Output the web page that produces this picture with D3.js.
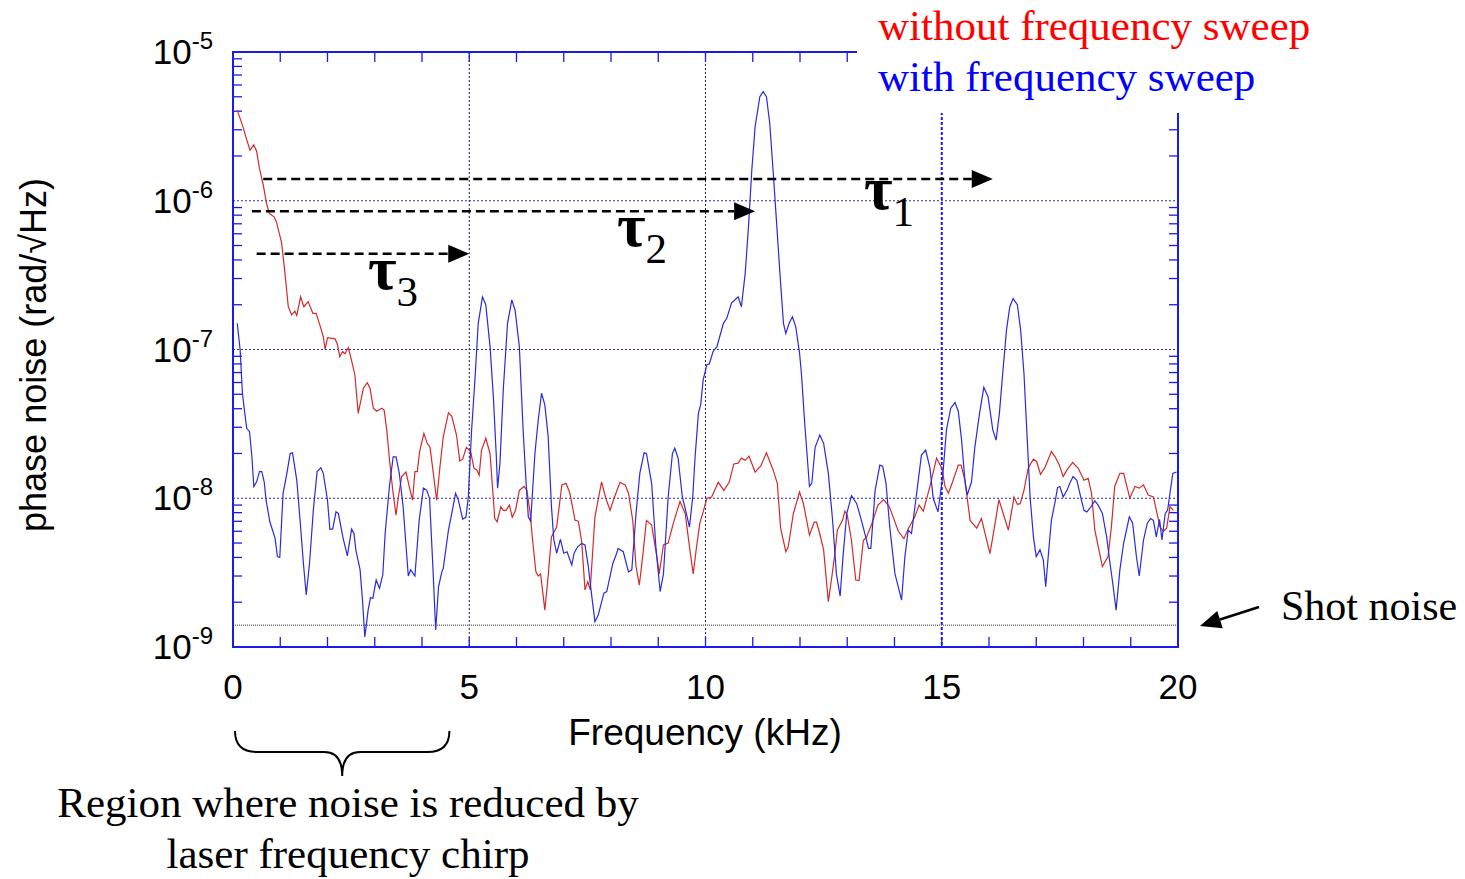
<!doctype html>
<html>
<head>
<meta charset="utf-8">
<style>
  body { margin: 0; background: #fff; }
  .sans { font-family: "Liberation Sans", Arial, Helvetica, sans-serif; }
  .serif { font-family: "Liberation Serif", "Times New Roman", serif; }
</style>
<script src="https://d3js.org/d3.v7.min.js"></script>
</head>
<body>
<svg width="1465" height="879"></svg>
<script>
// ---- data ----
var redFreq = [0.09,0.22,0.27,0.36,0.44,0.50,0.56,0.64,0.71,0.77,0.87,0.92,1.03,1.10,1.17,1.24,1.31,1.35,1.43,1.50,1.59,1.69,1.76,1.85,1.91,1.95,2.00,2.16,2.21,2.26,2.32,2.37,2.44,2.49,2.58,2.65,2.76,2.84,2.90,2.97,3.04,3.15,3.20,3.25,3.32,3.38,3.45,3.50,3.57,3.66,3.73,3.80,3.85,3.90,3.95,4.04,4.11,4.17,4.24,4.31,4.38,4.45,4.56,4.63,4.73,4.80,4.86,4.94,5.03,5.10,5.16,5.21,5.26,5.35,5.44,5.54,5.59,5.67,5.72,5.78,5.85,5.91,5.98,6.06,6.16,6.22,6.29,6.34,6.41,6.46,6.51,6.60,6.67,6.74,6.85,6.96,7.05,7.13,7.24,7.31,7.38,7.45,7.51,7.56,7.66,7.80,7.89,7.98,8.05,8.19,8.30,8.37,8.46,8.53,8.60,8.67,8.75,8.86,8.97,9.02,9.11,9.21,9.32,9.46,9.57,9.67,9.74,9.81,9.88,9.95,10.03,10.13,10.27,10.39,10.50,10.60,10.69,10.76,10.84,10.92,11.05,11.17,11.29,11.43,11.52,11.59,11.70,11.75,11.86,11.99,12.07,12.20,12.30,12.35,12.42,12.50,12.60,12.67,12.74,12.79,12.90,12.95,13.00,13.09,13.18,13.25,13.34,13.41,13.51,13.65,13.77,13.89,13.97,14.08,14.20,14.31,14.43,14.52,14.61,14.75,14.89,15.00,15.07,15.14,15.23,15.35,15.41,15.49,15.60,15.74,15.84,16.02,16.13,16.21,16.30,16.41,16.53,16.60,16.66,16.74,16.83,16.94,17.01,17.09,17.18,17.32,17.40,17.49,17.57,17.65,17.77,17.89,18.01,18.10,18.17,18.24,18.40,18.52,18.59,18.66,18.77,18.85,18.98,19.09,19.18,19.27,19.37,19.48,19.62,19.69,19.76,19.83,19.90];
var redNoise = [4.07e-6,3.08e-6,2.70e-6,2.19e-6,2.37e-6,2.15e-6,1.65e-6,1.28e-6,9.6e-7,8.2e-7,7.8e-7,7.2e-7,5.2e-7,3.25e-7,1.94e-7,1.71e-7,1.81e-7,1.69e-7,2.26e-7,1.94e-7,2.1e-7,1.75e-7,1.75e-7,1.42e-7,1.22e-7,1.0e-7,1.2e-7,1.18e-7,1.08e-7,8.95e-8,9.7e-8,9.35e-8,1.03e-7,8.95e-8,6.74e-8,3.72e-8,5.49e-8,5.98e-8,5.49e-8,4.03e-8,3.85e-8,4.03e-8,3.9e-8,2.95e-8,1.72e-8,1.14e-8,7.7e-9,1.02e-8,1.40e-8,1.5e-8,1.2e-8,9.7e-9,1.51e-8,1.51e-8,2.06e-8,2.73e-8,2.34e-8,2.2e-8,1.47e-8,9.7e-9,1.63e-8,2.59e-8,3.76e-8,3.55e-8,2.66e-8,1.78e-8,1.83e-8,2.2e-8,2.06e-8,1.59e-8,1.55e-8,1.43e-8,2.11e-8,2.53e-8,2.0e-8,7.3e-9,6.95e-9,8.8e-9,8.3e-9,8.3e-9,9.0e-9,7.45e-9,8.3e-9,1.13e-8,1.2e-8,1.13e-8,7.9e-9,5.24e-9,3.21e-9,3.0e-9,3.1e-9,1.77e-9,3.0e-9,5.5e-9,6.4e-9,1.23e-8,1.26e-8,1.08e-8,7.1e-9,7.0e-9,5.1e-9,2.42e-9,2.75e-9,2.42e-9,7.5e-9,1.29e-8,1.0e-8,8.3e-9,9.7e-9,1.28e-8,1.23e-8,1.08e-8,7.1e-9,3.47e-9,2.61e-9,4.05e-9,7.1e-9,6.6e-9,4.05e-9,3.1e-9,4.85e-9,5.0e-9,6.8e-9,9.5e-9,7.9e-9,4.5e-9,3.1e-9,4.7e-9,6.8e-9,8.1e-9,1.0e-8,1.02e-8,1.28e-8,1.13e-8,1.28e-8,1.70e-8,1.72e-8,1.86e-8,1.8e-8,1.92e-8,1.5e-8,1.65e-8,2.02e-8,1.55e-8,1.26e-8,6.3e-9,4.37e-9,4.7e-9,7.9e-9,1.1e-8,9.3e-9,5.66e-9,6.9e-9,6.9e-9,5.75e-9,4.5e-9,2.02e-9,2.9e-9,4.3e-9,6.1e-9,7.1e-9,8.2e-9,7.7e-9,5.2e-9,2.82e-9,2.8e-9,5.2e-9,5.5e-9,6.6e-9,9.0e-9,9.8e-9,8.8e-9,7.5e-9,6.0e-9,5.35e-9,6.4e-9,7.5e-9,9.0e-9,8.2e-9,1.2e-8,1.86e-8,1.6e-8,1.2e-8,1.08e-8,1.29e-8,1.67e-8,1.67e-8,1.32e-8,7.1e-9,6.3e-9,7.3e-9,4.25e-9,6.8e-9,9.8e-9,7.9e-9,6.1e-9,1.02e-8,9.1e-9,9.2e-9,1.13e-8,1.6e-8,1.83e-8,1.76e-8,1.45e-8,1.6e-8,2.06e-8,1.9e-8,1.67e-8,1.4e-8,1.55e-8,1.74e-8,1.59e-8,1.32e-8,1.36e-8,1.08e-8,6.1e-9,3.47e-9,4.05e-9,6.4e-9,1.2e-8,1.47e-8,1.47e-8,1.0e-8,1.2e-8,1.17e-8,1.23e-8,1.05e-8,1.02e-8,6.4e-9,6.0e-9,6.3e-9,8.8e-9,8.3e-9];

var blueFreq = [0.09,0.15,0.20,0.25,0.29,0.35,0.40,0.44,0.50,0.56,0.61,0.66,0.70,0.78,0.89,0.94,0.99,1.06,1.14,1.21,1.26,1.35,1.42,1.49,1.55,1.62,1.70,1.78,1.86,1.91,2.00,2.05,2.11,2.18,2.23,2.33,2.42,2.51,2.56,2.60,2.69,2.74,2.79,2.86,2.91,2.96,3.03,3.10,3.17,3.22,3.31,3.39,3.45,3.52,3.60,3.71,3.76,3.85,3.94,4.03,4.10,4.16,4.23,4.29,4.35,4.42,4.45,4.56,4.63,4.71,4.77,4.86,4.93,4.98,5.05,5.12,5.19,5.28,5.35,5.44,5.51,5.57,5.60,5.65,5.72,5.81,5.90,5.97,6.06,6.14,6.20,6.25,6.30,6.39,6.46,6.53,6.60,6.67,6.74,6.79,6.85,6.93,7.00,7.07,7.17,7.22,7.29,7.38,7.45,7.52,7.59,7.66,7.73,7.85,7.91,8.04,8.12,8.15,8.26,8.37,8.44,8.53,8.61,8.70,8.75,8.86,8.95,9.04,9.11,9.21,9.30,9.35,9.42,9.51,9.58,9.66,9.73,9.78,9.85,9.90,9.95,10.03,10.08,10.16,10.24,10.38,10.45,10.55,10.62,10.69,10.76,10.84,10.91,10.98,11.05,11.15,11.22,11.29,11.36,11.43,11.51,11.58,11.65,11.70,11.77,11.84,11.91,11.99,12.03,12.10,12.20,12.25,12.32,12.42,12.50,12.60,12.69,12.77,12.85,12.91,12.99,13.09,13.20,13.30,13.39,13.45,13.50,13.59,13.69,13.75,13.82,13.90,14.01,14.08,14.15,14.22,14.29,14.36,14.45,14.57,14.66,14.75,14.82,14.92,15.02,15.10,15.19,15.28,15.35,15.42,15.49,15.54,15.63,15.70,15.80,15.89,15.98,16.08,16.15,16.22,16.29,16.37,16.44,16.51,16.60,16.67,16.74,16.81,16.87,16.94,17.00,17.08,17.15,17.20,17.25,17.32,17.40,17.45,17.50,17.57,17.65,17.71,17.78,17.86,17.94,18.01,18.07,18.14,18.24,18.31,18.40,18.49,18.56,18.61,18.69,18.77,18.85,18.97,19.04,19.12,19.18,19.27,19.35,19.42,19.48,19.54,19.61,19.66,19.73,19.78,19.83,19.89,19.97];
var blueNoise = [1.5e-7,1.0e-7,5.08e-8,3.72e-8,2.95e-8,2.8e-8,1.9e-8,1.2e-8,1.29e-8,1.51e-8,1.51e-8,1.29e-8,9.7e-9,6.95e-9,5.4e-9,4.05e-9,4.0e-9,1.08e-8,1.47e-8,2.0e-8,2.02e-8,1.32e-8,7.1e-9,3.66e-9,2.24e-9,3.66e-9,8.3e-9,1.51e-8,1.6e-8,1.47e-8,9.7e-9,6.2e-9,6.2e-9,8.1e-9,7.9e-9,5.4e-9,4.1e-9,6.2e-9,5.8e-9,4.5e-9,3.3e-9,2.07e-9,1.17e-9,1.77e-9,2.15e-9,2.12e-9,2.82e-9,2.48e-9,3.05e-9,5.8e-9,1.2e-8,1.9e-8,1.9e-8,1.47e-8,8.8e-9,3.0e-9,3.3e-9,3.0e-9,7.1e-9,1.17e-8,1.13e-8,1.0e-8,3.47e-9,1.3e-9,2.54e-9,3.2e-9,3.38e-9,6.1e-9,7.9e-9,1.08e-8,9.7e-9,7.25e-9,7.45e-9,1.02e-8,2.88e-8,6.24e-8,1.5e-7,2.26e-7,2.0e-7,1.05e-7,4.82e-8,2.0e-8,1.17e-8,1.72e-8,5.35e-8,1.5e-7,2.15e-7,1.84e-7,1.05e-7,2.88e-8,1.32e-8,7.5e-9,7.0e-9,2.0e-8,3.36e-8,5.08e-8,4.24e-8,2.59e-8,8.8e-9,5.24e-9,4.27e-9,5.3e-9,4.27e-9,4.37e-9,3.56e-9,4.27e-9,4.7e-9,4.97e-9,4.85e-9,3.47e-9,2.24e-9,1.48e-9,1.64e-9,2.3e-9,2.36e-9,3.66e-9,4.27e-9,4.6e-9,4.37e-9,3.2e-9,3.3e-9,7.9e-9,1.47e-8,2.02e-8,2.0e-8,1.26e-8,4.7e-9,2.36e-9,3.1e-9,1.02e-8,2.0e-8,2.17e-8,1.86e-8,1.02e-8,8.3e-9,6.4e-9,1.02e-8,1.9e-8,3.72e-8,4.3e-8,6.24e-8,7.9e-8,8.0e-8,9.7e-8,1.04e-7,1.5e-7,1.62e-7,2.05e-7,2.15e-7,2.26e-7,1.94e-7,3.25e-7,6.7e-7,1.61e-6,3.15e-6,5.0e-6,5.41e-6,5.0e-6,3.31e-6,1.61e-6,6.7e-7,3.09e-7,1.5e-7,1.28e-7,1.5e-7,1.66e-7,1.42e-7,9.5e-8,6.9e-8,3.19e-8,1.2e-8,1.26e-8,2.2e-8,2.66e-8,2.34e-8,1.47e-8,7.1e-9,3.1e-9,2.2e-9,4.05e-9,7.9e-9,1.04e-8,9.2e-9,7.1e-9,5.5e-9,4.6e-9,4.6e-9,1.13e-8,1.67e-8,1.64e-8,1.26e-8,6.4e-9,3.1e-9,2.54e-9,2.07e-9,4.05e-9,6.1e-9,5.8e-9,9.7e-9,1.95e-8,2.11e-8,1.6e-8,1.0e-8,8.1e-9,1.4e-8,2.88e-8,4.03e-8,4.4e-8,3.85e-8,2.46e-8,1.32e-8,1.05e-8,1.29e-8,2.2e-8,3.72e-8,5.57e-8,4.82e-8,2.88e-8,2.46e-8,3.72e-8,6.9e-8,1.35e-7,1.94e-7,2.2e-7,2.0e-7,1.35e-7,6.9e-8,2.46e-8,1.02e-8,5.5e-9,4.05e-9,4.5e-9,3.84e-9,2.54e-9,3.95e-9,7.1e-9,9.5e-9,1.18e-8,1.2e-8,1.02e-8,1.13e-8,1.26e-8,1.4e-8,1.32e-8,1.02e-8,8.3e-9,8.1e-9,8.6e-9,9.6e-9,9.0e-9,7.9e-9,5.5e-9,3.66e-9,2.82e-9,1.77e-9,3.3e-9,5.0e-9,7.5e-9,6.8e-9,4.05e-9,3.0e-9,5.24e-9,6.8e-9,7.3e-9,7.1e-9,5.5e-9,7.2e-9,5.24e-9,7.9e-9,8.3e-9,1.08e-8,1.47e-8,1.5e-8];

var xTicks = [0, 5, 10, 15, 20];
var yDecades = [-9, -8, -7, -6, -5];
var shotNoise = 1.4e-9;
// tau arrows: start kHz, end kHz, level
var tauStart = [0.64, 0.40, 0.50];
var tauEnd = [16.08, 11.05, 5.0];
var tauLevel = [1.4e-6, 8.5e-7, 4.4e-7];

var svg = d3.select("svg");
var x = d3.scaleLinear().domain([0, 20]).range([233, 1178]);
var y = d3.scaleLog().domain([1e-9, 1e-5]).range([647, 52]);
var axisBlue = "#1a1aee";

// arrow with a solid triangular head ending at (x2,y2)
function arrow(x1, y1, x2, y2, dashed) {
  var dx = x2 - x1, dy = y2 - y1, len = Math.sqrt(dx * dx + dy * dy);
  var ux = dx / len, uy = dy / len, hl = 21, hw = 9;
  var bx = x2 - ux * hl, by = y2 - uy * hl;
  svg.append("line").attr("x1", x1).attr("y1", y1).attr("x2", bx).attr("y2", by)
     .attr("stroke", "#000").attr("stroke-width", 2.5)
     .attr("stroke-dasharray", dashed ? "9,5" : null);
  svg.append("polygon")
     .attr("points", [[x2, y2], [bx - uy * hw, by + ux * hw], [bx + uy * hw, by - ux * hw]].join(" "))
     .attr("fill", "#000");
}

// gridlines
[1e-8, 1e-7, 1e-6].forEach(function(v) {
  svg.append("line").attr("x1", x(0)).attr("x2", x(20)).attr("y1", y(v)).attr("y2", y(v))
     .attr("stroke", "#2a2ab0").attr("stroke-width", 1).attr("stroke-dasharray", "2,2");
});
[5, 10].forEach(function(v) {
  svg.append("line").attr("x1", x(v)).attr("x2", x(v)).attr("y1", y(1e-5)).attr("y2", y(1e-9))
     .attr("stroke", "#202070").attr("stroke-width", 1).attr("stroke-dasharray", "2,2");
});
svg.append("line").attr("x1", x(15)).attr("x2", x(15)).attr("y1", y(1e-5)).attr("y2", y(1e-9))
   .attr("stroke", axisBlue).attr("stroke-width", 2).attr("stroke-dasharray", "3,2");
svg.append("line").attr("x1", x(0)).attr("x2", x(20)).attr("y1", y(shotNoise)).attr("y2", y(shotNoise))
   .attr("stroke", "#777").attr("stroke-width", 1.6).attr("stroke-dasharray", "1,1");

// minor ticks
var minor = [];
for (var e = -9; e < -5; e++) for (var m = 2; m <= 9; m++) minor.push(m * Math.pow(10, e));
minor.forEach(function(v) {
  svg.append("line").attr("x1", x(0)).attr("x2", x(0) + 9).attr("y1", y(v)).attr("y2", y(v))
     .attr("stroke", axisBlue).attr("stroke-width", 1.3);
  svg.append("line").attr("x1", x(20) - 9).attr("x2", x(20)).attr("y1", y(v)).attr("y2", y(v))
     .attr("stroke", axisBlue).attr("stroke-width", 1.3);
});
d3.range(1, 20).forEach(function(f) {
  svg.append("line").attr("x1", x(f)).attr("x2", x(f)).attr("y1", y(1e-9)).attr("y2", y(1e-9) - 10)
     .attr("stroke", axisBlue).attr("stroke-width", 1.3);
  svg.append("line").attr("x1", x(f)).attr("x2", x(f)).attr("y1", y(1e-5)).attr("y2", y(1e-5) + 10)
     .attr("stroke", axisBlue).attr("stroke-width", 1.3);
});

// curves
var line = d3.line().x(function(d) { return x(d[0]); }).y(function(d) { return y(d[1]); });
svg.append("path").datum(d3.zip(redFreq, redNoise)).attr("d", line)
   .attr("fill", "none").attr("stroke", "#d42a2a").attr("stroke-width", 1.2);
svg.append("path").datum(d3.zip(blueFreq, blueNoise)).attr("d", line)
   .attr("fill", "none").attr("stroke", "#2a2ae0").attr("stroke-width", 1.2);

// frame
svg.append("rect").attr("x", x(0)).attr("y", y(1e-5)).attr("width", x(20) - x(0)).attr("height", y(1e-9) - y(1e-5))
   .attr("fill", "none").attr("stroke", axisBlue).attr("stroke-width", 2);

// legend (white box hides the frame corner)
svg.append("rect").attr("x", 857).attr("y", 0).attr("width", 460).attr("height", 113).attr("fill", "#fff");
svg.append("text").attr("class", "serif").attr("x", 878).attr("y", 40).attr("font-size", 43)
   .attr("fill", "#ff0000").text("without frequency sweep");
svg.append("text").attr("class", "serif").attr("x", 878).attr("y", 91).attr("font-size", 43)
   .attr("fill", "#0000ff").text("with frequency sweep");

// axis labels
svg.append("g").selectAll("text").data(xTicks).enter().append("text")
   .attr("class", "sans").attr("x", function(d) { return x(d); }).attr("y", 699)
   .attr("text-anchor", "middle").attr("font-size", 35).text(function(d) { return d; });
var yl = svg.append("g").selectAll("text").data(yDecades).enter().append("text")
   .attr("class", "sans").attr("x", 213).attr("y", function(d) { return y(Math.pow(10, d)) + 12; })
   .attr("text-anchor", "end").attr("font-size", 35);
yl.append("tspan").text("10");
yl.append("tspan").attr("dy", -15).attr("font-size", 24).text(function(d) { return d; });

svg.append("text").attr("class", "sans").attr("x", 705).attr("y", 745).attr("text-anchor", "middle")
   .attr("font-size", 37).text("Frequency (kHz)");
svg.append("text").attr("class", "sans").attr("transform", "translate(46,355) rotate(-90)")
   .attr("text-anchor", "middle").attr("font-size", 36).text("phase noise (rad/\u221AHz)");

// tau arrows
tauStart.forEach(function(s, i) {
  arrow(x(s), y(tauLevel[i]), x(tauEnd[i]), y(tauLevel[i]), true);
});
var tauPos = [[864, 209, "1"], [617, 246, "2"], [368, 289, "3"]];
tauPos.forEach(function(p) {
  var t = svg.append("text").attr("class", "serif").attr("x", p[0]).attr("y", p[1]).attr("font-size", 62)
     .attr("font-weight", "bold");
  t.append("tspan").text("\u03C4");
  t.append("tspan").attr("dy", 17).attr("font-size", 43).attr("font-weight", "normal").text(p[2]);
});

// shot noise annotation
arrow(1259, 607, 1200, 626, false);
svg.append("text").attr("class", "serif").attr("x", 1281).attr("y", 620).attr("font-size", 42).text("Shot noise");

// brace under 0-5 kHz
var bl = x(0) + 2, br = x(4.58), bm = (bl + br) / 2, bt = 731, bh = 752, bb = 776;
var p = d3.path();
p.moveTo(bl, bt);
p.quadraticCurveTo(bl, bh, bl + 22, bh);
p.lineTo(bm - 18, bh);
p.quadraticCurveTo(bm, bh, bm, bb);
p.quadraticCurveTo(bm, bh, bm + 18, bh);
p.lineTo(br - 22, bh);
p.quadraticCurveTo(br, bh, br, bt);
svg.append("path").attr("d", p.toString()).attr("fill", "none").attr("stroke", "#000").attr("stroke-width", 2);
svg.append("text").attr("class", "serif").attr("x", 348).attr("y", 817).attr("text-anchor", "middle")
   .attr("font-size", 43).text("Region where noise is reduced by");
svg.append("text").attr("class", "serif").attr("x", 348).attr("y", 868).attr("text-anchor", "middle")
   .attr("font-size", 43).text("laser frequency chirp");
</script>
</body>
</html>
